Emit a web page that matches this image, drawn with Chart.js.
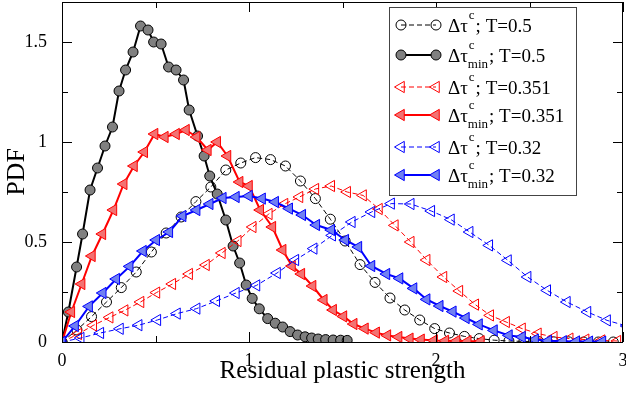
<!DOCTYPE html>
<html>
<head>
<meta charset="utf-8">
<script src="https://cdn.jsdelivr.net/npm/chart.js@4.4.1/dist/chart.umd.min.js"></script>
<style>
  html, body { margin: 0; padding: 0; background: #fff; }
  canvas { display: block; }
</style>
</head>
<body>
<canvas id="pdfChart" width="626" height="395"></canvas>
<script>
// values
const xTauT05 = [0, 0.08, 0.158, 0.238, 0.317, 0.397, 0.478, 0.557, 0.637, 0.716, 0.796, 0.876, 0.956, 1.035, 1.115, 1.195, 1.275, 1.355, 1.435, 1.514, 1.594, 1.674, 1.754, 1.833, 1.913, 1.993, 2.072, 2.152, 2.231, 2.311, 2.39, 2.47, 2.55, 2.629, 2.709, 2.789, 2.868, 2.948];
const pdfTauT05 = [0, 0.06, 0.127, 0.2, 0.272, 0.35, 0.45, 0.545, 0.625, 0.702, 0.775, 0.86, 0.895, 0.922, 0.912, 0.88, 0.805, 0.717, 0.614, 0.505, 0.387, 0.298, 0.22, 0.16, 0.11, 0.067, 0.045, 0.028, 0.017, 0.009, 0.005, 0.003, 0.002, 0.001, 0.001, 0, 0, 0];

const xTauMinT05 = [0, 0.034, 0.078, 0.11, 0.15, 0.19, 0.23, 0.27, 0.305, 0.34, 0.38, 0.42, 0.46, 0.49, 0.53, 0.57, 0.61, 0.65, 0.68, 0.725, 0.76, 0.79, 0.83, 0.876, 0.915, 0.95, 0.985, 1.017, 1.055, 1.1, 1.14, 1.18, 1.22, 1.26, 1.3, 1.335, 1.37, 1.41, 1.45, 1.49, 1.525];
const pdfTauMinT05 = [0, 0.15, 0.375, 0.54, 0.76, 0.87, 0.98, 1.075, 1.255, 1.36, 1.45, 1.58, 1.56, 1.5, 1.49, 1.375, 1.36, 1.31, 1.16, 1.03, 0.93, 0.83, 0.74, 0.61, 0.48, 0.395, 0.285, 0.218, 0.166, 0.117, 0.094, 0.075, 0.052, 0.035, 0.026, 0.02, 0.015, 0.012, 0.01, 0.009, 0.008];

const xTauT0351 = [0, 0.087, 0.167, 0.255, 0.335, 0.42, 0.505, 0.59, 0.68, 0.77, 0.855, 0.94, 1.02, 1.106, 1.19, 1.27, 1.355, 1.44, 1.525, 1.61, 1.695, 1.78, 1.865, 1.95, 2.04, 2.125, 2.21, 2.29, 2.375, 2.46, 2.545, 2.63, 2.715, 2.8, 2.885, 2.97];
const pdfTauT0351 = [0, 0.04, 0.083, 0.123, 0.158, 0.2, 0.247, 0.29, 0.34, 0.385, 0.445, 0.505, 0.575, 0.64, 0.69, 0.725, 0.765, 0.78, 0.75, 0.733, 0.665, 0.583, 0.5, 0.41, 0.325, 0.255, 0.187, 0.133, 0.1, 0.067, 0.042, 0.025, 0.017, 0.012, 0.008, 0.005];

const xTauMinT0351 = [0, 0.05, 0.105, 0.16, 0.216, 0.275, 0.33, 0.385, 0.44, 0.495, 0.55, 0.61, 0.663, 0.72, 0.78, 0.83, 0.885, 0.95, 1.0, 1.06, 1.125, 1.18, 1.23, 1.28, 1.34, 1.4, 1.45, 1.505, 1.56, 1.62, 1.68, 1.74, 1.8, 1.86, 1.92, 1.99, 2.05, 2.11, 2.17, 2.24];
const pdfTauMinT0351 = [0, 0.15, 0.29, 0.43, 0.54, 0.66, 0.79, 0.88, 0.95, 1.04, 1.025, 1.04, 1.06, 1.025, 0.96, 1.0, 0.93, 0.8, 0.78, 0.66, 0.575, 0.46, 0.38, 0.34, 0.28, 0.21, 0.16, 0.128, 0.09, 0.067, 0.047, 0.033, 0.025, 0.017, 0.012, 0.008, 0.006, 0.005, 0.004, 0.004];

const xTauT032 = [0, 0.1, 0.205, 0.31, 0.41, 0.51, 0.615, 0.72, 0.825, 0.93, 1.04, 1.15, 1.248, 1.346, 1.445, 1.55, 1.655, 1.76, 1.865, 1.975, 2.08, 2.18, 2.285, 2.385, 2.49, 2.595, 2.7, 2.81, 2.915, 3.02];
const pdfTauT032 = [0, 0.02, 0.045, 0.066, 0.084, 0.11, 0.142, 0.167, 0.205, 0.245, 0.283, 0.345, 0.41, 0.467, 0.533, 0.6, 0.65, 0.692, 0.69, 0.655, 0.612, 0.55, 0.483, 0.408, 0.325, 0.258, 0.2, 0.15, 0.108, 0.08];

const xTauMinT032 = [0, 0.07, 0.145, 0.218, 0.29, 0.362, 0.433, 0.504, 0.574, 0.645, 0.72, 0.79, 0.86, 0.93, 1.0, 1.07, 1.14, 1.215, 1.285, 1.36, 1.44, 1.515, 1.585, 1.655, 1.735, 1.805, 1.88, 1.95, 2.02, 2.09, 2.16, 2.23, 2.31, 2.39, 2.46, 2.53, 2.6, 2.68, 2.75, 2.82, 2.89];
const pdfTauMinT032 = [0, 0.08, 0.178, 0.245, 0.315, 0.378, 0.455, 0.51, 0.55, 0.63, 0.66, 0.69, 0.72, 0.725, 0.73, 0.717, 0.7, 0.667, 0.635, 0.585, 0.56, 0.51, 0.475, 0.38, 0.34, 0.318, 0.268, 0.213, 0.18, 0.152, 0.12, 0.088, 0.058, 0.033, 0.025, 0.012, 0.006, 0.004, 0.003, 0.002, 0.002];

const legendSubs = ['', 'min', '', 'min', '', 'min'];
const legendTemps = ['0.5', '0.5', '0.351', '0.351', '0.32', '0.32'];

const xTickValues = [0, 1, 2, 3];
const xMinorTicks = [0.5, 1.5, 2.5];
const yTickValues = [0, 0.5, 1, 1.5];
const yMinorTicks = [0.25, 0.75, 1.25];

const serif = '"Liberation Serif", "Times New Roman", serif';

function points(xs, ys) {
  return xs.map((x, i) => ({ x: x, y: ys[i] }));
}

function series(xs, ys, color, fill, marker, dashed) {
  return {
    data: points(xs, ys),
    borderColor: color,
    borderWidth: dashed ? 1 : 2,
    borderDash: dashed ? [5, 3] : [],
    pointStyle: marker,
    pointRotation: marker === 'triangle' ? -90 : 0,
    pointRadius: marker === 'triangle' ? 6.5 : 5,
    pointBorderWidth: 1,
    pointBorderColor: color,
    pointBackgroundColor: fill,
    tension: 0,
    fill: false
  };
}

const datasets = [
  series(xTauT05, pdfTauT05, '#000000', 'rgba(0,0,0,0)', 'circle', true),
  series(xTauMinT05, pdfTauMinT05, '#000000', '#808080', 'circle', false),
  series(xTauT0351, pdfTauT0351, '#ff0000', 'rgba(0,0,0,0)', 'triangle', true),
  series(xTauMinT0351, pdfTauMinT0351, '#ff0000', '#f27272', 'triangle', false),
  series(xTauT032, pdfTauT032, '#0000ff', 'rgba(0,0,0,0)', 'triangle', true),
  series(xTauMinT032, pdfTauMinT032, '#0000ff', '#7080f2', 'triangle', false)
];
// later series on top, like the original
datasets.forEach((d, i) => { d.order = datasets.length - i; });

// frame with inward ticks, plus the boxed legend
const framePlugin = {
  id: 'frame',
  afterDatasetsDraw(chart) {
    const { ctx, chartArea: a, scales: { x, y } } = chart;
    ctx.save();
    ctx.strokeStyle = '#000';
    ctx.lineWidth = 1;
    ctx.strokeRect(a.left + 0.5, a.top + 0.5, a.right - a.left - 1, a.bottom - a.top);
    ctx.beginPath();
    const tickX = (v, len) => {
      const px = Math.round(x.getPixelForValue(v)) + 0.5;
      ctx.moveTo(px, a.bottom); ctx.lineTo(px, a.bottom - len);
      ctx.moveTo(px, a.top); ctx.lineTo(px, a.top + len);
    };
    const tickY = (v, len) => {
      const py = Math.round(y.getPixelForValue(v)) + 0.5;
      ctx.moveTo(a.left, py); ctx.lineTo(a.left + len, py);
      ctx.moveTo(a.right, py); ctx.lineTo(a.right - len, py);
    };
    xTickValues.forEach(v => tickX(v, 10));
    xMinorTicks.forEach(v => tickX(v, 6));
    yTickValues.forEach(v => tickY(v, 10));
    yMinorTicks.forEach(v => tickY(v, 6));
    ctx.stroke();
    ctx.restore();
  },
  afterDraw(chart) {
    const ctx = chart.ctx;
    const box = { left: 389, top: 7, right: 576, bottom: 195 };
    const rowY = [25, 55, 87, 115, 147, 175];
    ctx.save();
    ctx.fillStyle = '#fff';
    ctx.fillRect(box.left, box.top, box.right - box.left, box.bottom - box.top);
    ctx.strokeStyle = '#444';
    ctx.lineWidth = 1;
    ctx.strokeRect(box.left + 0.5, box.top + 0.5, box.right - box.left, box.bottom - box.top);

    chart.data.datasets.forEach((ds, i) => {
      const cy = rowY[i];
      const x0 = 401, x1 = 436;
      ctx.save();
      ctx.strokeStyle = ds.borderColor;
      ctx.lineWidth = ds.borderWidth;
      ctx.setLineDash(ds.borderDash);
      ctx.beginPath();
      ctx.moveTo(x0, cy); ctx.lineTo(x1, cy);
      ctx.stroke();
      ctx.restore();
      ctx.fillStyle = ds.pointBackgroundColor;
      ctx.strokeStyle = ds.pointBorderColor;
      ctx.lineWidth = ds.pointBorderWidth;
      const opts = { pointStyle: ds.pointStyle, rotation: ds.pointRotation, radius: ds.pointRadius, borderWidth: ds.pointBorderWidth };
      Chart.helpers.drawPoint(ctx, opts, x0, cy);
      Chart.helpers.drawPoint(ctx, opts, x1, cy);

      ctx.fillStyle = '#000';
      ctx.textBaseline = 'alphabetic';
      ctx.textAlign = 'left';
      ctx.font = '19px ' + serif;
      const tx = 448;
      ctx.fillText('\u0394\u03c4', tx, cy + 7);
      const sx = tx + ctx.measureText('\u0394\u03c4').width + 1;
      ctx.font = '13px ' + serif;
      ctx.fillText('c', sx, cy - 6);
      let w = ctx.measureText('c').width;
      if (legendSubs[i]) {
        ctx.fillText(legendSubs[i], sx - 1, cy + 13);
        w = Math.max(w, ctx.measureText(legendSubs[i]).width - 1);
      }
      ctx.font = '19px ' + serif;
      ctx.fillText('; T=' + legendTemps[i], sx + w + 1, cy + 7);
    });
    ctx.restore();
  }
};

Chart.defaults.font.family = serif;
Chart.defaults.color = '#000';

new Chart(document.getElementById('pdfChart').getContext('2d'), {
  type: 'line',
  data: { datasets: datasets },
  options: {
    responsive: false,
    animation: false,
    events: [],
    layout: { autoPadding: false, padding: { top: 2, right: 3, left: 0, bottom: 0 } },
    plugins: { legend: { display: false }, tooltip: { enabled: false } },
    scales: {
      x: {
        type: 'linear',
        min: 0,
        max: 3,
        grid: { display: false },
        border: { display: false },
        afterBuildTicks: s => { s.ticks = xTickValues.map(v => ({ value: v })); },
        afterFit: s => { s.height = 53; s.paddingLeft = 0; s.paddingRight = 0; },
        ticks: { font: { size: 18 }, color: '#000', padding: 0, maxRotation: 0, autoSkip: false, callback: v => String(v) },
        title: { display: true, text: 'Residual plastic strength', font: { size: 25 }, color: '#000', padding: { top: 4, bottom: 9 } }
      },
      y: {
        type: 'linear',
        min: 0,
        max: 1.7,
        grid: { display: false },
        border: { display: false },
        afterBuildTicks: s => { s.ticks = yTickValues.map(v => ({ value: v })); },
        afterFit: s => { s.width = 62; s.paddingTop = 0; s.paddingBottom = 0; },
        ticks: { font: { size: 18 }, color: '#000', padding: 7, autoSkip: false, callback: v => String(v) },
        title: { display: true, text: 'PDF', font: { size: 26 }, color: '#000', padding: { top: 2, bottom: 0 } }
      }
    }
  },
  plugins: [framePlugin]
});
</script>
</body>
</html>
